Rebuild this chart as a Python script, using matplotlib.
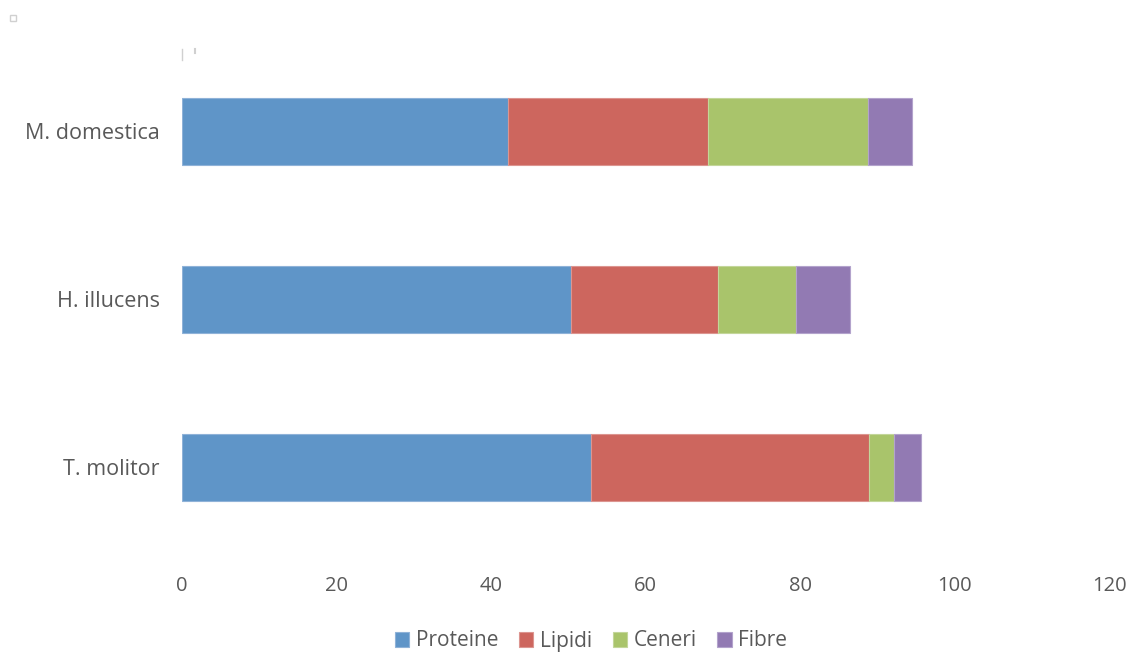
import matplotlib.pyplot as plt
from matplotlib.patches import Rectangle

# composizione (% sostanza secca)
specie = ["T. molitor", "H. illucens", "M. domestica"]
proteine = [52.9, 50.4, 42.2]
lipidi = [36.0, 19.0, 25.9]
ceneri = [3.3, 10.1, 20.7]
fibre = [3.4, 7.0, 5.7]

serie = ["Proteine", "Lipidi", "Ceneri", "Fibre"]
colori = ["#5F95C8", "#CD665E", "#A9C46B", "#927AB3"]
bordi = ["#8FB2D8", "#DC9590", "#C3D69A", "#B3A3CC"]
xticks = [0, 20, 40, 60, 80, 100, 120]

plt.rcParams['font.family'] = ['Open Sans', 'DejaVu Sans']
grigio = "#595959"

fig = plt.figure(figsize=(11.28, 6.53), dpi=100)
ax = fig.add_axes([182/1128, 1-551/653, (1109-182)/1128, (551-47.5)/653])

left = [0, 0, 0]
for nome, valori, c, e in zip(serie, [proteine, lipidi, ceneri, fibre], colori, bordi):
    ax.barh(specie, valori, left=left, height=0.4, color=c, edgecolor=e,
            linewidth=0.8, label=nome)
    left = [a + b for a, b in zip(left, valori)]

ax.set_xlim(0, 120)
ax.set_ylim(-0.5, 2.5)
ax.set_xticks(xticks)
ax.tick_params(axis='both', length=0, colors=grigio)
ax.tick_params(axis='x', pad=18, labelsize=14.5)
ax.tick_params(axis='y', pad=16, labelsize=15.5)
for s in ax.spines.values():
    s.set_visible(False)

leg = fig.legend(loc='center', bbox_to_anchor=(591/1128, 1-641/653), ncol=4, frameon=False,
                 fontsize=15, handlelength=0.7, handleheight=0.7, handletextpad=0.3,
                 columnspacing=1.0, labelcolor=grigio)

# piccoli segni in alto a sinistra
fig.patches.append(Rectangle((10/1128, 1-21/653), 6/1128, 6/653, transform=fig.transFigure,
                             facecolor="white", edgecolor="#d0d0d0", linewidth=1))
fig.add_artist(plt.Line2D([182/1128, 182/1128], [1-49/653, 1-60/653], color="#d0d0d0",
                          linewidth=1, transform=fig.transFigure))
fig.add_artist(plt.Line2D([195/1128, 195/1128], [1-49/653, 1-53/653], color="#d0d0d0",
                          linewidth=1.5, transform=fig.transFigure))

fig.savefig("out.png", dpi=100)
